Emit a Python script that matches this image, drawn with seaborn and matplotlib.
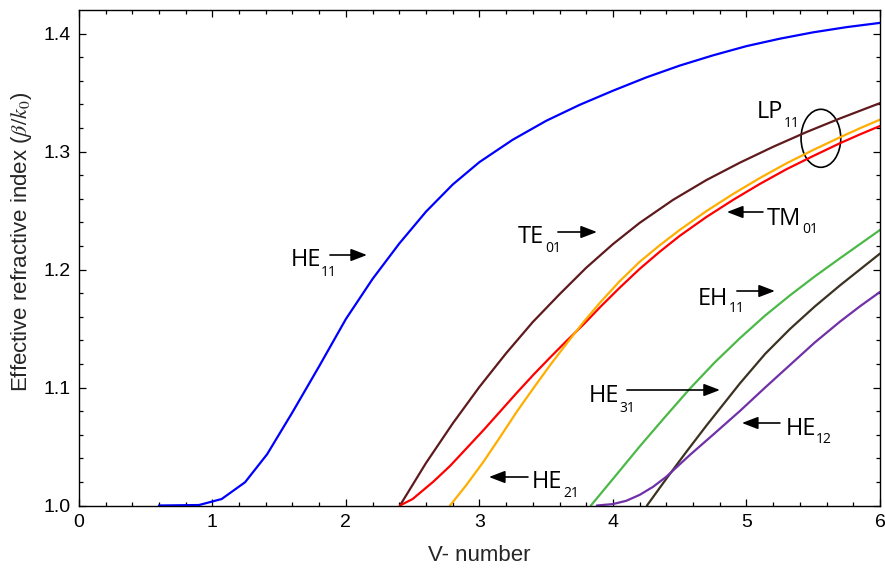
import numpy as np
import pandas as pd
import matplotlib
matplotlib.use("Agg")
import matplotlib.pyplot as plt
from matplotlib.patches import Ellipse
import seaborn as sns

# ---------------- data ----------------
HE11_V = [0.6, 0.9, 1.07, 1.245, 1.41, 1.6, 1.8, 2.0, 2.2, 2.4, 2.6, 2.8, 3.0,
          3.25, 3.5, 3.75, 4.0, 4.25, 4.5, 4.75, 5.0, 5.25, 5.5, 5.75, 6.0]
HE11_n = [1.0, 1.0004, 1.0055, 1.0197, 1.0434, 1.079, 1.118, 1.158, 1.192, 1.222,
          1.249, 1.272, 1.291, 1.310, 1.326, 1.3395, 1.3515, 1.3628, 1.3728, 1.3815,
          1.3893, 1.3956, 1.4010, 1.4054, 1.409]

TE01_V = [2.405, 2.6, 2.8, 3.0, 3.2, 3.4, 3.6, 3.8, 4.0, 4.2, 4.45, 4.7, 4.95,
          5.2, 5.45, 5.7, 6.0]
TE01_n = [1.0, 1.036, 1.0695, 1.1005, 1.129, 1.1555, 1.179, 1.2015, 1.2215, 1.2395,
          1.259, 1.2758, 1.2905, 1.304, 1.3165, 1.328, 1.341]

TM01_V = [2.405, 2.5, 2.655, 2.78, 2.904, 3.03, 3.154, 3.28, 3.403, 3.53, 3.653,
          3.78, 3.903, 4.05, 4.2, 4.35, 4.5, 4.7, 4.9, 5.1, 5.3, 5.5, 5.7, 5.85, 6.0]
TM01_n = [1.0, 1.0055, 1.0202, 1.0335, 1.0485, 1.0638, 1.0795, 1.0955, 1.1106,
          1.1255, 1.1395, 1.1535, 1.168, 1.1845, 1.2005, 1.215, 1.2285, 1.2445,
          1.259, 1.2725, 1.285, 1.2962, 1.307, 1.3145, 1.3216]

HE21_V = [2.78, 2.9, 3.03, 3.155, 3.28, 3.405, 3.53, 3.655, 3.78, 3.9, 4.05, 4.2,
          4.35, 4.5, 4.7, 4.9, 5.1, 5.3, 5.5, 5.7, 5.85, 6.0]
HE21_n = [1.0, 1.017, 1.037, 1.058, 1.0795, 1.0995, 1.119, 1.1375, 1.1555, 1.1715,
          1.190, 1.2065, 1.2205, 1.2335, 1.2495, 1.264, 1.2775, 1.29, 1.3013, 1.312,
          1.3197, 1.327]

EH11_V = [3.835, 4.0, 4.2, 4.39, 4.576, 4.76, 4.95, 5.14, 5.325, 5.51, 5.7, 5.85, 6.0]
EH11_n = [1.0, 1.0225, 1.050, 1.075, 1.099, 1.121, 1.1417, 1.161, 1.178, 1.194,
          1.2095, 1.2215, 1.2335]

HE31_V = [4.255, 4.402, 4.55, 4.702, 4.951, 5.14, 5.325, 5.51, 5.7, 5.85, 6.0]
HE31_n = [1.0, 1.023, 1.0455, 1.068, 1.1035, 1.1285, 1.1495, 1.1685, 1.1865, 1.200,
          1.2135]

HE12_V = [3.88, 4.0, 4.1, 4.2, 4.3, 4.4, 4.576, 4.76, 4.95, 5.14, 5.325, 5.51, 5.7,
          5.85, 6.0]
HE12_n = [1.0, 1.0012, 1.004, 1.009, 1.0158, 1.0244, 1.0428, 1.061, 1.080, 1.100,
          1.119, 1.138, 1.1558, 1.1688, 1.181]

modes = ["HE11", "TE01", "TM01", "HE21", "EH11", "HE31", "HE12"]
series = {
    "HE11": (HE11_V, HE11_n), "TE01": (TE01_V, TE01_n), "TM01": (TM01_V, TM01_n),
    "HE21": (HE21_V, HE21_n), "EH11": (EH11_V, EH11_n), "HE31": (HE31_V, HE31_n),
    "HE12": (HE12_V, HE12_n),
}
colors = {
    "HE11": "#0000ff", "TE01": "#5e1a1c", "TM01": "#ff0000", "HE21": "#ffae00",
    "EH11": "#4cb848", "HE31": "#3b3222", "HE12": "#7030a8",
}

x_ticks = [0, 1, 2, 3, 4, 5, 6]
y_ticks = [1.0, 1.1, 1.2, 1.3, 1.4]
y_tick_labels = ["1.0", "1.1", "1.2", "1.3", "1.4"]

rows = []
for m in modes:
    V, n = series[m]
    for v, nn in zip(V, n):
        rows.append({"mode": m, "V": v, "n": nn})
df = pd.DataFrame(rows)

# ---------------- style ----------------
sns.set_style("ticks")
plt.rcParams["font.family"] = ["Liberation Sans", "DejaVu Sans"]
plt.rcParams["mathtext.fontset"] = "stix"
plt.rcParams["lines.solid_joinstyle"] = "round"

fig = plt.figure(figsize=(8.85, 5.74), dpi=100)
ax = fig.add_axes([78.8 / 885, 1 - 505.5 / 574, (880 - 78.8) / 885, (505.5 - 10) / 574])

sns.lineplot(data=df, x="V", y="n", hue="mode", palette=colors, hue_order=modes,
             estimator=None, sort=False, legend=False, linewidth=1.6, ax=ax)

ax.set_xlim(0, 6)
ax.set_ylim(1.0, 1.0 + (505.5 - 10) / 1180)
ax.set_xticks(x_ticks)
ax.set_yticks(y_ticks)
ax.set_yticklabels(y_tick_labels)
ax.set_xticks(np.arange(0, 6.01, 0.2), minor=True)
ax.set_yticks(np.arange(1.0, 1.42, 0.02), minor=True)
ax.tick_params(which="both", direction="in", top=True, right=True, colors="black",
               labelsize=14, pad=6, width=0.9)
ax.tick_params(which="major", length=5)
ax.tick_params(which="minor", length=2.8)
for s in ax.spines.values():
    s.set_color("black")
    s.set_linewidth(1.0)

ax.set_xlabel("V- number", fontsize=16, labelpad=10)
ax.set_ylabel(r"Effective refractive index ($\beta/k_0$)", fontsize=16)
ax.yaxis.set_label_coords(-0.056, 0.532)

# ---------------- annotations ----------------
def px2d(x, y):
    return (x - 78.8) / 133.55, 1.0 + (505.5 - y) / 1180.0

afont = "Open Sans"

def label(main, sub, mpos, spos):
    mx, my = px2d(*mpos)
    sx, sy = px2d(*spos)
    ax.text(mx, my, main, fontsize=17, family=afont, ha="left", va="baseline", color="black")
    ax.text(sx, sy, sub, fontsize=10, family=afont, ha="left", va="baseline", color="black")

def arrow(tail, tip):
    ax.annotate("", xy=px2d(*tip), xytext=px2d(*tail),
                arrowprops=dict(arrowstyle="-|>,head_length=0.65,head_width=0.25",
                                lw=1.2, color="black", mutation_scale=15,
                                shrinkA=0, shrinkB=0))

label("HE", "11", (291, 266), (321, 276)); arrow((330, 255), (367, 255))
label("TE", "01", (518, 243), (545, 252)); arrow((558, 232), (597, 232))
label("TM", "01", (767, 225), (802, 233)); arrow((763, 212), (727, 212))
label("LP", "11", (757, 118), (784, 127))
label("EH", "11", (698, 305), (729, 312)); arrow((737, 291), (775, 291))
label("HE", "31", (589, 402), (619, 412)); arrow((627, 390), (720, 390))
label("HE", "12", (786, 435), (816, 443)); arrow((780, 423), (742, 423))
label("HE", "21", (532, 488), (563, 497)); arrow((528, 477), (489, 477))

cx, cy = px2d(821, 138.3)
ax.add_patch(Ellipse((cx, cy), 39.7 / 133.55, 58 / 1180.0, fill=False,
                     edgecolor="black", lw=1.2))

fig.savefig("out.png", dpi=100)
